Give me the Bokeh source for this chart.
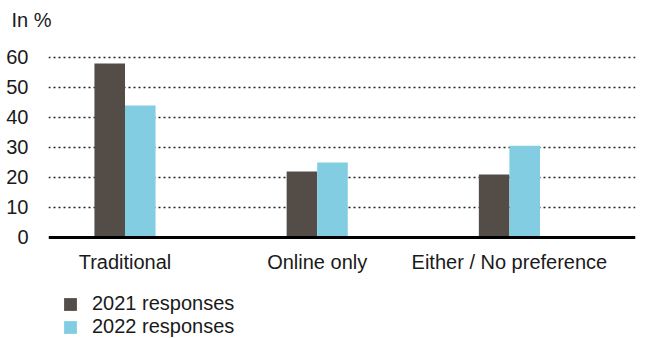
from bokeh.plotting import figure
from bokeh.models import Range1d, FixedTicker, Legend, LegendItem, Span, ColumnDataSource, LabelSet
from bokeh.core.properties import value
from bokeh.embed import file_html
from bokeh.resources import INLINE

categories = ["Traditional", "Online only", "Either / No preference"]
responses_2021 = [58, 22, 21]
responses_2022 = [44, 25, 30.6]
y_ticks = [0, 10, 20, 30, 40, 50, 60]

FONT = "Liberation Sans"
DARK = "#544c46"
BLUE = "#82cde2"
TXT = "#1a1a1a"

bar_w = 0.159
xs = list(range(len(categories)))
x_2021 = [x - bar_w / 2 for x in xs]
x_2022 = [x + bar_w / 2 for x in xs]

p = figure(width=645, height=338, output_backend="svg", toolbar_location=None,
           x_range=Range1d(-0.398, 2.656), y_range=Range1d(-33.67, 61.0),
           min_border_left=48, min_border_right=10, min_border_top=54,
           min_border_bottom=0)
p.outline_line_color = None
p.background_fill_color = "white"
p.border_fill_color = "white"

r1 = p.vbar(x=x_2021, top=responses_2021, width=bar_w, color=DARK, line_color=None)
r2 = p.vbar(x=x_2022, top=responses_2022, width=bar_w, color=BLUE, line_color=None)

p.xaxis.visible = False
p.xgrid.grid_line_color = None

p.yaxis.ticker = FixedTicker(ticks=y_ticks)
p.yaxis.major_tick_line_color = None
p.yaxis.minor_tick_line_color = None
p.yaxis.axis_line_color = None
p.yaxis.major_label_text_font = FONT
p.yaxis.major_label_text_font_size = "20px"
p.yaxis.major_label_text_color = TXT
p.yaxis.major_label_standoff = 14

p.ygrid.ticker = FixedTicker(ticks=y_ticks[1:])
p.ygrid.grid_line_color = "#222222"
p.ygrid.grid_line_width = 1.6
p.ygrid.grid_line_dash = "2 3"

base = Span(location=0, dimension="width", line_color="black", line_width=3)
p.add_layout(base)

cat_src = ColumnDataSource(dict(x=xs, y=[-8.3] * len(xs), text=categories))
p.add_layout(LabelSet(x="x", y="y", text="text", source=cat_src,
                      text_align="center", text_baseline="middle",
                      text_font=value(FONT), text_font_size=value("20px"),
                      text_color=TXT))

# title (trailing empty line lifts the visible line toward the top edge)
p.title.text = "In %\n"
p.title.align = "left"
p.title.offset = -37
p.title.text_font = FONT
p.title.text_font_size = "20px"
p.title.text_font_style = "normal"
p.title.text_color = TXT
p.title.standoff = 3

legend = Legend(items=[LegendItem(label="2021 responses", renderers=[r1]),
                       LegendItem(label="2022 responses", renderers=[r2])],
                location=(14, 0))
legend.glyph_width = 16
legend.glyph_height = 16
legend.label_standoff = 14
legend.label_text_font = FONT
legend.label_text_font_size = "20px"
legend.label_text_color = TXT
legend.label_height = 16
legend.spacing = 0
legend.padding = 0
legend.margin = 0
legend.border_line_color = None
legend.background_fill_alpha = 0
p.add_layout(legend, "center")

open("out.html", "w").write(file_html(p, INLINE))
